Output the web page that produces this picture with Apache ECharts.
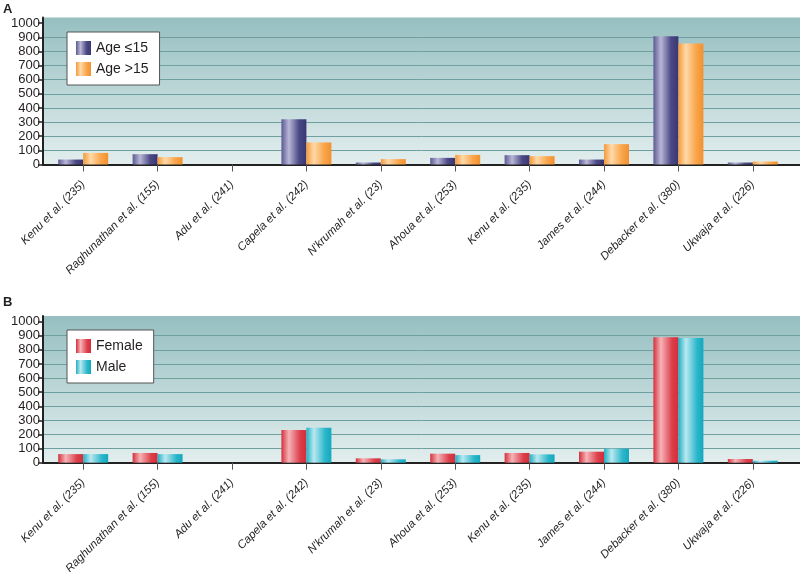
<!DOCTYPE html>
<html>
<head>
<meta charset="utf-8">
<script src="https://cdn.jsdelivr.net/npm/echarts@6/dist/echarts.min.js"></script>
<style>html,body{margin:0;padding:0;background:#fff}#c{width:800px;height:572px}</style>
</head>
<body>
<div id="c"></div>
<script>
const categories = ["Kenu et al. (235)", "Raghunathan et al. (155)", "Adu et al. (241)", "Capela et al. (242)", "N'krumah et al. (23)", "Ahoua et al. (253)", "Kenu et al. (235)", "James et al. (244)", "Debacker et al. (380)", "Ukwaja et al. (226)"];
const ageLe15 = [35, 73, 0, 321, 14, 47, 66, 35, 908, 14];
const ageGt15 = [82, 52, 0, 156, 38, 68, 59, 144, 856, 21];
const female = [61, 69, 0, 232, 31, 64, 69, 78, 889, 26];
const male = [61, 61, 0, 248, 24, 54, 59, 99, 884, 14];
const yTicks = [0, 100, 200, 300, 400, 500, 600, 700, 800, 900, 1000];

const chart = echarts.init(document.getElementById('c'), null, {renderer: 'canvas'});
const txt = '#231f20';
const hGrad = (stops) => ({type: 'linear', x: 0, y: 0, x2: 1, y2: 0, colorStops: stops.map(s => ({offset: s[0], color: s[1]}))});
const navy = hGrad([[0, '#5c5a92'], [0.3, '#b9b7d7'], [0.7, '#4c4a86'], [1, '#393672']]);
const orange = hGrad([[0, '#f59a3a'], [0.3, '#ffd9a9'], [0.7, '#f9a64c'], [1, '#f29030']]);
const red = hGrad([[0, '#d5303c'], [0.3, '#f5b3b7'], [0.75, '#dc3e4a'], [1, '#d12e3a']]);
const teal = hGrad([[0, '#20b0c5'], [0.3, '#bae8f0'], [0.75, '#2ab6ca'], [1, '#15a8be']]);
const bg = {type: 'linear', x: 0, y: 0, x2: 0, y2: 1, colorStops: [{offset: 0, color: '#96bfc1'}, {offset: 1, color: '#e3eeee'}]};

const panels = [{top: 17.5, bottom: 407.5}, {top: 316, bottom: 109.3}];
const grids = [], xAxes = [], yAxes = [];
panels.forEach(p => {
  grids.push({left: 43, right: 0, top: p.top, bottom: p.bottom, show: true, backgroundColor: bg, borderWidth: 0, containLabel: false, outerBoundsMode: 'none'});
  grids.push({left: 46, right: 10, top: p.top, bottom: p.bottom, show: false, containLabel: false, outerBoundsMode: 'none'});
});
[0, 2].forEach(g => {
  xAxes.push({gridIndex: g, type: 'value', min: 0, max: 1, axisLine: {show: true, onZero: false, lineStyle: {color: '#222', width: 2}}, axisTick: {show: false}, axisLabel: {show: false}, splitLine: {show: false}});
  yAxes.push({gridIndex: g, type: 'value', min: 0, max: 1040, interval: 100,
    axisLine: {show: true, lineStyle: {color: '#222', width: 2}},
    axisTick: {show: true, length: 5, lineStyle: {color: '#222', width: 1.5}, customValues: yTicks},
    axisLabel: {color: txt, fontSize: 13, fontFamily: 'Liberation Sans', margin: 3, customValues: yTicks, formatter: v => String(v)},
    splitLine: {show: true, showMaxLine: false, lineStyle: {color: '#6fa0a1', width: 1}}});
  xAxes.push({gridIndex: g + 1, type: 'category', data: categories,
    axisLine: {show: false},
    axisTick: {show: true, alignWithLabel: true, length: 7, lineStyle: {color: '#555', width: 1}},
    axisLabel: {rotate: 45, interval: 0, color: txt, fontSize: 11.5, fontStyle: 'italic', fontFamily: 'Liberation Sans', margin: 18}});
  yAxes.push({gridIndex: g + 1, type: 'value', min: 0, max: 1040, show: false});
});

const mk = (name, data, color, xi) => ({name, type: 'bar', xAxisIndex: xi, yAxisIndex: xi, data, barWidth: 25, barGap: '0%', itemStyle: {color}, z: 3});
const legendBase = {orient: 'vertical', left: 67, backgroundColor: '#fff', borderColor: '#555', borderWidth: 1, padding: [9, 11, 9, 9], itemWidth: 15, itemHeight: 14, itemGap: 7, icon: 'rect', textStyle: {fontSize: 14, color: txt, fontFamily: 'Liberation Sans'}};

chart.setOption({
  animation: false,
  title: [
    {text: 'A', left: 3, top: 3, padding: 0, textStyle: {fontSize: 13, fontWeight: 'bold', color: txt, fontFamily: 'Liberation Sans'}},
    {text: 'B', left: 3, top: 296, padding: 0, textStyle: {fontSize: 13, fontWeight: 'bold', color: txt, fontFamily: 'Liberation Sans'}}
  ],
  legend: [
    Object.assign({}, legendBase, {data: ['Age ≤15', 'Age >15'], top: 32}),
    Object.assign({}, legendBase, {data: ['Female', 'Male'], top: 330})
  ],
  grid: grids,
  xAxis: xAxes,
  yAxis: yAxes,
  series: [
    mk('Age ≤15', ageLe15, navy, 1),
    mk('Age >15', ageGt15, orange, 1),
    mk('Female', female, red, 3),
    mk('Male', male, teal, 3)
  ]
});
</script>
</body>
</html>
